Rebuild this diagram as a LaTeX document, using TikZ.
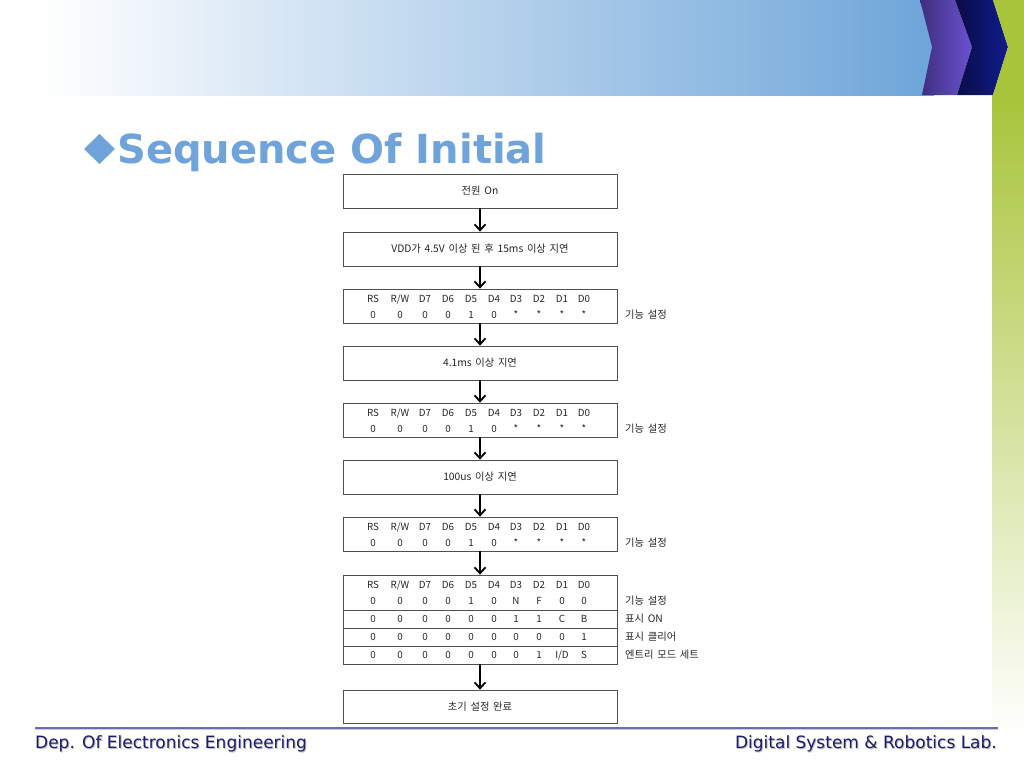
\documentclass[tikz,border=0pt]{standalone}
\usepackage{fontspec}
\setmainfont{DejaVu Sans}
\newfontfamily\kr{Noto Sans CJK KR}[WordSpace=1.6]
\usetikzlibrary{arrows.meta}
\definecolor{bannerblue}{HTML}{6DA5D9}
\definecolor{titleblue}{HTML}{6FA3D9}
\definecolor{purpleL}{HTML}{3E2E7E}
\definecolor{purpleR}{HTML}{6A52D2}
\definecolor{navyL}{HTML}{0A0C45}
\definecolor{navyR}{HTML}{101C8C}
\definecolor{leaf}{HTML}{A8C43A}
\definecolor{footblue}{HTML}{1B1B70}
\definecolor{footline}{HTML}{6B6BB5}
\definecolor{boxline}{HTML}{505050}
\tikzset{
  stepbox/.style={draw=boxline, line width=0.8pt, minimum width=274pt, minimum height=34pt, inner sep=0pt, font=\kr\fontsize{10.3}{12}\selectfont, text=black!85},
  flow/.style={-{Straight Barb[length=6pt,width=11pt]}, line width=1.8pt, black},
  cell/.style={font=\kr\fontsize{9.8}{11}\selectfont, inner sep=0pt, anchor=base, text=black!85},
  sidelabel/.style={font=\kr\fontsize{10.3}{12}\selectfont, inner sep=0pt, anchor=base west, text=black!85},
  foot/.style={font=\fontsize{17}{17}\selectfont, inner sep=0pt, text=footblue},
  footshadow/.style={font=\fontsize{17}{17}\selectfont, inner sep=0pt, text=black!25}
}
\newcommand\bitrow[3]{%
  \foreach \t [count=\i from 0] in {#2} {%
    \pgfmathsetmacro\cx{{373,400,425,448,471,494,516,539,562,584}[\i]}%
    \node[cell] (#3-\i) at (\cx,#1) {\t};
  }%
}
\begin{document}
\begin{tikzpicture}[x=1pt,y=-1pt]
\useasboundingbox (0,0) rectangle (1024,768);
\fill[white] (0,0) rectangle (1024,768);
% banner
\shade[left color=white, right color=bannerblue] (40,0) rectangle (934,95);
\shade[left color=purpleL, right color=purpleR] (920,0)--(955,0)--(972,47)--(957,95)--(922,95)--(932,47)--cycle;
\shade[left color=navyL, right color=navyR] (955,0)--(993,0)--(1008,47)--(993,95)--(957,95)--(972,47)--cycle;
\fill[leaf] (993,0)--(1024,0)--(1024,96)--(992,96)--(993,95)--(1008,47)--cycle;
\shade[top color=leaf, bottom color=white] (992,95) rectangle (1024,735);
% title
\fill[titleblue] (84,149)--(99.5,134)--(115,149)--(99.5,164)--cycle;
\node[anchor=base west, inner sep=0pt, text=titleblue, font=\fontsize{40}{40}\selectfont\bfseries] (title) at (117,163) {Sequence Of Initial};
% flow boxes
\node[stepbox] (b1) at (480,191) {전원 On};
\node[stepbox] (b2) at (480,249) {VDD가 4.5V 이상 된 후 15ms 이상 지연};
\node[stepbox] (b3) at (480,306) {};
\node[stepbox] (b4) at (480,363) {4.1ms 이상 지연};
\node[stepbox] (b5) at (480,420) {};
\node[stepbox] (b6) at (480,477) {100us 이상 지연};
\node[stepbox] (b7) at (480,534) {};
\node[stepbox, minimum height=89pt] (b8) at (480,619.5) {};
\node[stepbox, minimum height=33pt] (b9) at (480,706.5) {초기 설정 완료};
% data rows
\bitrow{302.5}{RS,R/W,D7,D6,D5,D4,D3,D2,D1,D0}{h3}
\bitrow{318.5}{0,0,0,0,1,0,*,*,*,*}{v3}
\node[sidelabel] (l3) at (625,318.5) {기능 설정};
\bitrow{416.5}{RS,R/W,D7,D6,D5,D4,D3,D2,D1,D0}{h5}
\bitrow{432.5}{0,0,0,0,1,0,*,*,*,*}{v5}
\node[sidelabel] (l5) at (625,432.5) {기능 설정};
\bitrow{530.5}{RS,R/W,D7,D6,D5,D4,D3,D2,D1,D0}{h7}
\bitrow{546.5}{0,0,0,0,1,0,*,*,*,*}{v7}
\node[sidelabel] (l7) at (625,546.5) {기능 설정};
\bitrow{588.5}{RS,R/W,D7,D6,D5,D4,D3,D2,D1,D0}{h8}
\bitrow{604.5}{0,0,0,0,1,0,N,F,0,0}{r1}
\bitrow{622.5}{0,0,0,0,0,0,1,1,C,B}{r2}
\bitrow{640.5}{0,0,0,0,0,0,0,0,0,1}{r3}
\bitrow{658.5}{0,0,0,0,0,0,0,1,I/D,S}{r4}
\node[sidelabel] (t1) at (625,604.5) {기능 설정};
\node[sidelabel] (t2) at (625,622.5) {표시 ON};
\node[sidelabel] (t3) at (625,640.5) {표시 클리어};
\node[sidelabel] (t4) at (625,658.5) {엔트리 모드 세트};
\draw[boxline, line width=0.8pt] (b8.west |- 0,610) -- (b8.east |- 0,610);
\draw[boxline, line width=0.8pt] (b8.west |- 0,628) -- (b8.east |- 0,628);
\draw[boxline, line width=0.8pt] (b8.west |- 0,646) -- (b8.east |- 0,646);
% arrows
\draw[flow] (b1.south) -- (b2.north);
\draw[flow] (b2.south) -- (b3.north);
\draw[flow] (b3.south) -- (b4.north);
\draw[flow] (b4.south) -- (b5.north);
\draw[flow] (b5.south) -- (b6.north);
\draw[flow] (b6.south) -- (b7.north);
\draw[flow] (b7.south) -- (b8.north);
\draw[flow] (b8.south) -- (b9.north);
% footer
\draw[black!20, line width=1.2pt] (35,729.5) -- (998,729.5);
\draw[footline, line width=1.2pt] (35,728) -- (998,728);
\node[footshadow, anchor=base west] (fls) at (36,749) {Dep. Of Electronics Engineering};
\node[foot, anchor=base west] (fl) at (35,748) {Dep. Of Electronics Engineering};
\node[footshadow, anchor=base east] (frs) at (998,749) {Digital System \& Robotics Lab.};
\node[foot, anchor=base east] (fr) at (997,748) {Digital System \& Robotics Lab.};
\end{tikzpicture}
\end{document}
